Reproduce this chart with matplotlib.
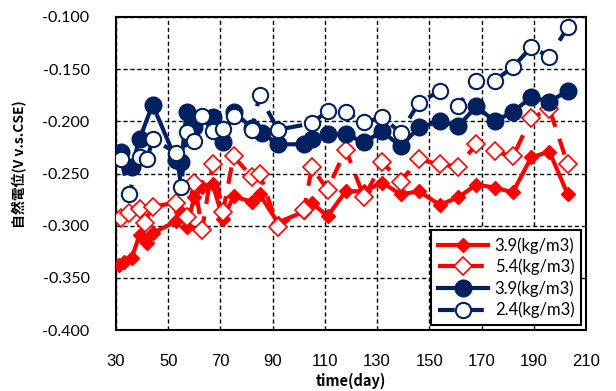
import numpy as np
import matplotlib
matplotlib.use("Agg")
import matplotlib.pyplot as plt

days_r1 = [31, 33, 36, 39, 42, 44, 53, 55, 57, 60, 63, 67, 71, 75, 82, 85, 92,
           102, 105, 111, 118, 125, 132, 139, 146, 154, 161, 168, 175, 182, 189, 196, 203]
pot_r1 = [-0.3375, -0.335, -0.331, -0.309, -0.3165, -0.307, -0.296, -0.2865, -0.301,
          -0.273, -0.263, -0.260, -0.294, -0.272, -0.277, -0.270, -0.297,
          -0.2865, -0.278, -0.291, -0.267, -0.267, -0.2587, -0.270, -0.267,
          -0.280, -0.273, -0.2606, -0.2635, -0.268, -0.2346, -0.229, -0.270]

days_r2 = [32, 35, 39, 41, 44, 53, 57, 60, 63, 67, 71, 75, 82, 85, 92,
           102, 105, 111, 118, 125, 132, 139, 146, 154, 161, 168, 175, 182, 189, 196, 203]
pot_r2 = [-0.2923, -0.2875, -0.2837, -0.297, -0.2817, -0.278, -0.292, -0.2587, -0.3038,
          -0.2413, -0.2865, -0.2337, -0.2529, -0.250, -0.301,
          -0.2846, -0.2442, -0.2654, -0.227, -0.273, -0.2394, -0.2577, -0.2365,
          -0.2413, -0.2433, -0.222, -0.2288, -0.2337, -0.197, -0.188, -0.2413]

days_n1 = [32, 36, 39, 44, 53, 55, 57, 60, 67, 71, 75, 82, 86, 92,
           102, 105, 111, 118, 125, 132, 139, 146, 154, 161, 168, 175, 182, 189, 196, 203]
pot_n1 = [-0.229, -0.244, -0.217, -0.184, -0.237, -0.239, -0.191, -0.205, -0.196,
          -0.220, -0.191, -0.206, -0.211, -0.222,
          -0.222, -0.217, -0.2125, -0.2125, -0.220, -0.2096, -0.224, -0.2058,
          -0.200, -0.2048, -0.1856, -0.200, -0.191, -0.177, -0.181, -0.171]

days_n2 = [32, 35, 39, 42, 44, 53, 55, 57, 60, 63, 67, 71, 75, 82, 85, 92,
           105, 111, 118, 125, 132, 139, 146, 154, 161, 168, 175, 182, 189, 196, 203]
pot_n2 = [-0.2365, -0.270, -0.234, -0.236, -0.217, -0.230, -0.2625, -0.2106, -0.219,
          -0.195, -0.2096, -0.2077, -0.195, -0.208, -0.175, -0.208,
          -0.202, -0.190, -0.191, -0.201, -0.196, -0.211, -0.182, -0.171,
          -0.185, -0.161, -0.161, -0.148, -0.129, -0.138, -0.110]

labels = ["3.9(kg/m3)", "5.4(kg/m3)", "3.9(kg/m3)", "2.4(kg/m3)"]
x_ticks = list(range(30, 211, 20))
y_ticks = [-0.4, -0.35, -0.3, -0.25, -0.2, -0.15, -0.1]

RED = "#FF0000"
NAVY = "#002060"
DASH = (0, (4, 3))


def main():
    fig = plt.figure(figsize=(6.16, 3.91), dpi=100)
    ax = fig.add_axes([116 / 616, 1 - 330 / 391, 470 / 616, 313 / 391])

    ax.plot(days_r1, pot_r1, color=RED, lw=3, marker="D", ms=7,
            mfc=RED, mec=RED, label=labels[0], zorder=3)
    ax.plot(days_r2, pot_r2, color=RED, lw=3, ls=DASH, marker="D", ms=9,
            mfc="white", mec=RED, mew=1.2, label=labels[1], zorder=4)
    ax.plot(days_n1, pot_n1, color=NAVY, lw=3, marker="o", ms=12,
            mfc=NAVY, mec=NAVY, label=labels[2], zorder=5)
    ax.plot(days_n2, pot_n2, color=NAVY, lw=3, ls=DASH, marker="o", ms=11,
            mfc="white", mec=NAVY, mew=1.5, label=labels[3], zorder=6)

    ax.set_xlim(30, 210)
    ax.set_ylim(-0.4, -0.1)
    ax.set_xticks(x_ticks)
    ax.set_yticks(y_ticks)
    ax.set_yticklabels([f"{v:.3f}" for v in y_ticks], fontfamily="Lato", fontsize=11.5)
    ax.set_xticklabels([str(v) for v in x_ticks], fontfamily="Liberation Sans", fontsize=12)
    ax.tick_params(axis="both", length=0)
    ax.tick_params(axis="y", pad=19)
    ax.tick_params(axis="x", pad=17)

    ax.grid(True, color="black", ls=(0, (3, 2)), lw=1)
    ax.set_axisbelow(True)
    for sp in ax.spines.values():
        sp.set_linewidth(1.5)
        sp.set_color("black")

    ax.set_xlabel("time(day)", fontfamily=["Noto Sans CJK JP", "DejaVu Sans"],
                  fontweight="bold", fontsize=10.5)
    ax.xaxis.set_label_coords(0.5, -0.137)
    ax.set_ylabel("自然電位(V v.s.CSE)", fontfamily=["Noto Sans CJK JP", "DejaVu Sans"],
                  fontweight="bold", fontsize=10)
    ax.yaxis.set_label_coords(-0.19, 0.53)

    leg = ax.legend(loc="lower right", bbox_to_anchor=(1.0, 0.0), fancybox=False,
                    framealpha=1, edgecolor="black", handlelength=3.0,
                    borderaxespad=0.3, labelspacing=0.3, handletextpad=0.4,
                    prop={"family": "Lato", "size": 12})
    leg.get_frame().set_linewidth(1.5)
    leg.set_zorder(10)

    fig.savefig("out.png", dpi=100)
    plt.close(fig)


if __name__ == "__main__":
    main()
